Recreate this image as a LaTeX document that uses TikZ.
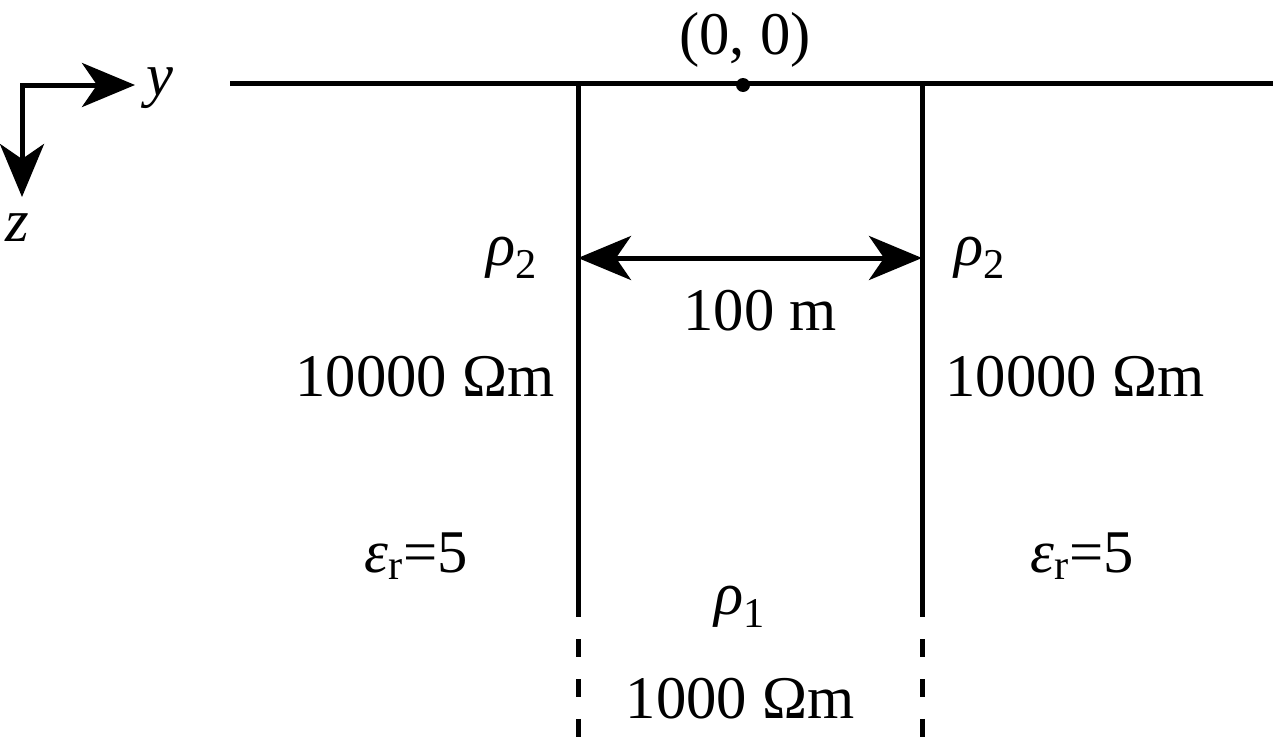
\documentclass[tikz,border=0pt]{standalone}
\usepackage{fontspec}
\setmainfont{Liberation Serif}
\usetikzlibrary{arrows.meta}

\tikzset{
  bound/.style={line width=0.1cm},
  lbl/.style={font=\fontsize{34.5}{40}\selectfont, inner sep=0pt},
  bigtip/.style={-{Stealth[length=1.06cm,width=0.88cm,inset=0.3cm]}},
  bigtips/.style={{Stealth[length=1.06cm,width=0.88cm,inset=0.3cm]}-{Stealth[length=1.06cm,width=0.88cm,inset=0.3cm]}}
}

\begin{document}
\begin{tikzpicture}[x=0.02cm,y=-0.02cm]
			%%%%% START %%%%%
			\useasboundingbox (0,0) rectangle (1273,737);
			
			% axes
			\coordinate (o) at (22,85);
			\coordinate (ye) at (135,85);
			\coordinate (ze) at (22,197);
			\draw[bound, bigtip] (20,85) -- (ye);
			\draw[bound, bigtip] (o) -- (ze);
			\node[lbl] (ylab) at (160,88) {\textit{y}};
			\node[lbl] (zlab) at (17,228) {\textit{z}};
			
			% surface
			\draw[bound] (230,83) -- (1273,83);
			\fill (743,85) circle (7);
			\node[lbl] (orig) at (745,40) {(0, 0)};
			
			% boundaries
			\coordinate (lt) at (578,83);
			\coordinate (rt) at (922,83);
			\coordinate (lb) at (578,617);
			\coordinate (rb) at (922,617);
			\draw[bound] (lt) -- (lb);
			\draw[bound] (rt) -- (rb);
			\draw[bound, dash pattern=on 0.36cm off 0.44cm] (578,639) -- (578,737);
			\draw[bound, dash pattern=on 0.36cm off 0.44cm] (922,639) -- (922,737);
			
			% width
			\coordinate (wl) at (578,258);
			\coordinate (wr) at (922,258);
			\draw[bound, bigtips] (wl) -- (wr);
			\node[lbl] (width) at (760,311) {100 m};
			
			% left medium
			\node[lbl] (rhol) at (512,258) {\textit{ρ}\textsubscript{2}};
			\node[lbl] (resl) at (425,377) {10000 Ωm};
			\node[lbl] (epsl) at (416,556) {\textit{ε}\textsubscript{r}=5};
			
			% right medium
			\node[lbl] (rhor) at (980,258) {\textit{ρ}\textsubscript{2}};
			\node[lbl] (resr) at (1075,377) {10000 Ωm};
			\node[lbl] (epsr) at (1082,556) {\textit{ε}\textsubscript{r}=5};
			
			% middle
			\node[lbl] (rhom) at (740,607) {\textit{ρ}\textsubscript{1}};
			\node[lbl] (resm) at (740,699) {1000 Ωm};
			%%%%% END %%%%%
\end{tikzpicture}
\end{document}
